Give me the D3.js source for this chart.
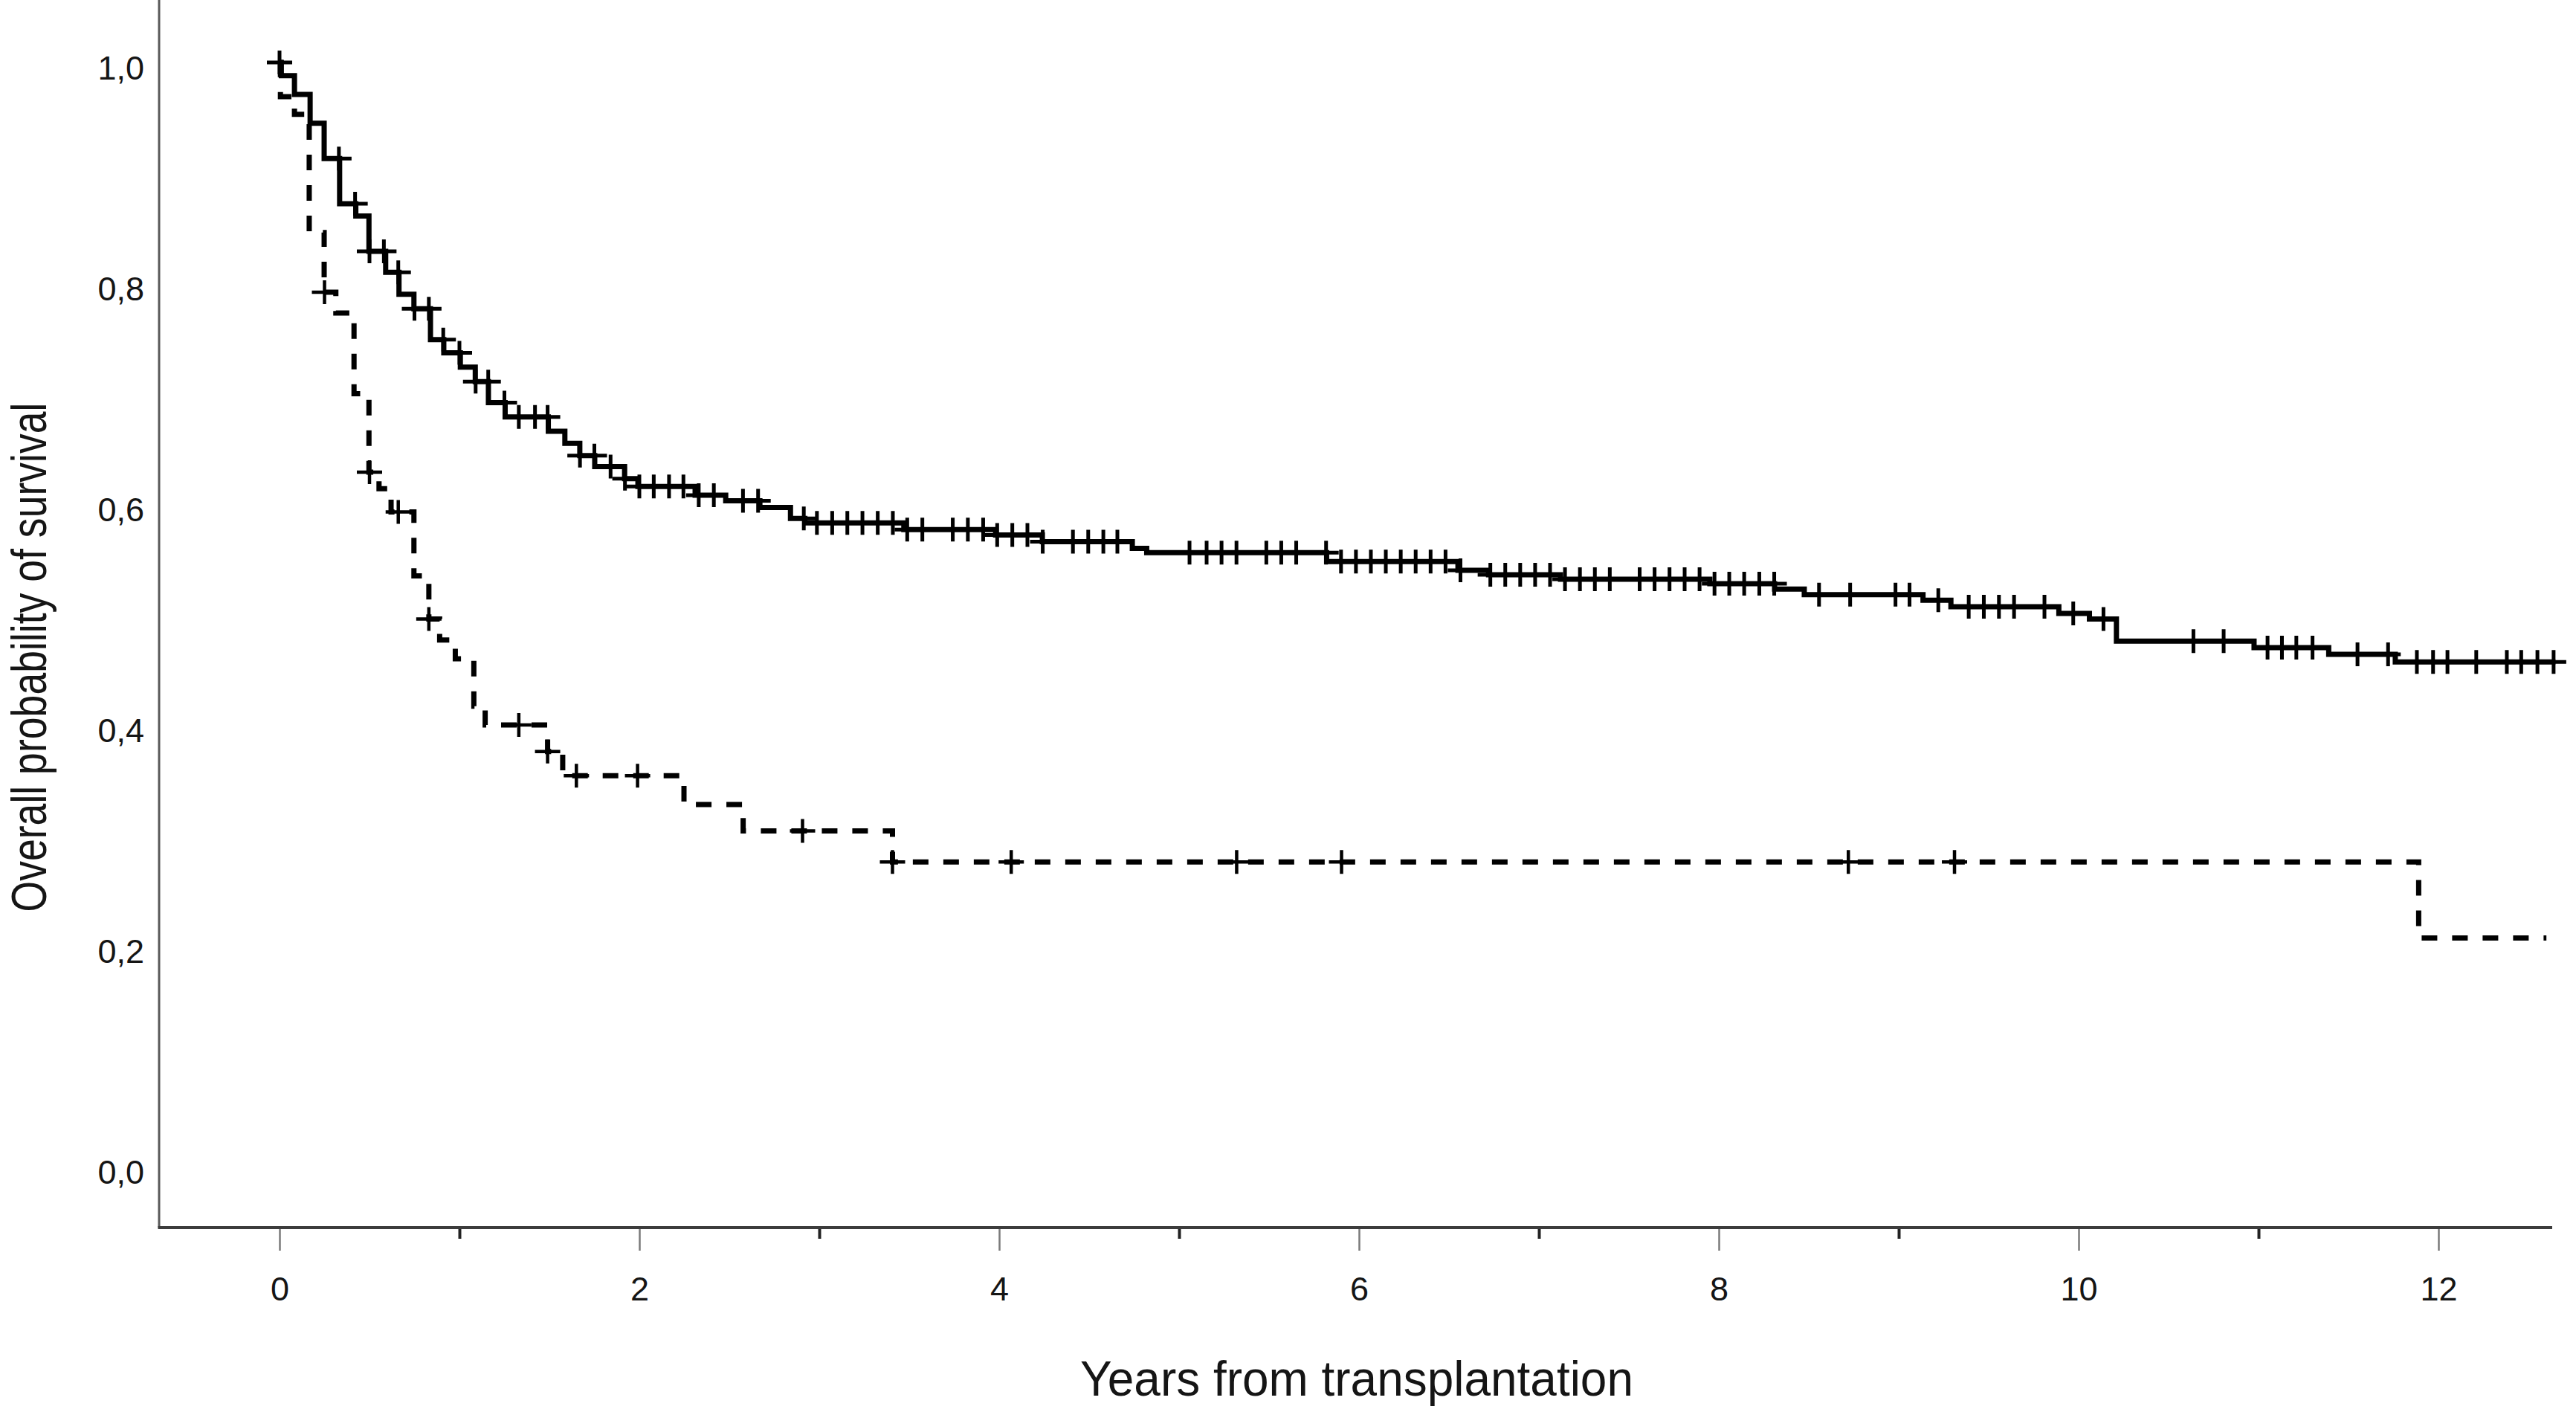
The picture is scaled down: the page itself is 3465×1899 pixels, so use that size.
<!DOCTYPE html>
<html>
<head>
<meta charset="utf-8">
<script src="https://cdn.jsdelivr.net/npm/d3@7"></script>
<style>
  body { margin: 0; background: #fff; }
  text { font-family: "Liberation Sans", Arial, sans-serif; fill: #151515; }
</style>
</head>
<body>
<svg id="chart"></svg>
<script>

// Kaplan-Meier steps: time (years) and survival after the drop
const solidTimes = [0, 0.01, 0.083, 0.17, 0.248, 0.334, 0.424, 0.497, 0.59, 0.664, 0.747, 0.839, 0.913, 1.005,
    1.088, 1.161, 1.254, 1.494, 1.586, 1.669, 1.752, 1.918, 1.992, 2.31, 2.48, 2.67, 2.84, 2.92, 3.47, 3.98,
    4.24, 4.74, 4.82, 5.82, 6.55, 6.72, 7.12, 7.95, 8.31, 8.475, 9.135, 9.29, 9.89, 10.06, 10.21, 10.975, 11.39,
    11.76, 12.65];
const solidSurv = [1.0, 0.988, 0.971, 0.945, 0.913, 0.872, 0.861, 0.829, 0.81, 0.79, 0.777, 0.749, 0.737, 0.724,
    0.711, 0.692, 0.679, 0.666, 0.655, 0.644, 0.634, 0.623, 0.616, 0.608, 0.603, 0.597, 0.587, 0.583, 0.577, 0.572,
    0.566, 0.56, 0.556, 0.548, 0.54, 0.536, 0.532, 0.528, 0.523, 0.518, 0.513, 0.507, 0.501, 0.496, 0.476, 0.47, 0.464,
    0.457, 0.457];
const solidCensored = [0, 0.33, 0.42, 0.5, 0.58, 0.66, 0.75, 0.83, 0.91, 1.0, 1.09, 1.16, 1.25, 1.33, 1.42, 1.49,
    1.67, 1.75, 1.84, 1.92, 2.0, 2.08, 2.165, 2.245, 2.33, 2.414, 2.576, 2.66, 2.914, 2.987, 3.072, 3.156, 3.24,
    3.325, 3.409, 3.489, 3.573, 3.742, 3.826, 3.911, 3.989, 4.073, 4.157, 4.242, 4.41, 4.495, 4.579, 4.657,
    5.058, 5.153, 5.236, 5.319, 5.485, 5.568, 5.651, 5.817, 5.9, 5.983, 6.066, 6.149, 6.232, 6.315, 6.398, 6.481,
    6.564, 6.73, 6.813, 6.896, 6.979, 7.062, 7.145, 7.228, 7.311, 7.394, 7.56, 7.643, 7.726, 7.81, 7.893, 7.976,
    8.058, 8.141, 8.225, 8.308, 8.557, 8.73, 8.982, 9.06, 9.22, 9.389, 9.473, 9.557, 9.641, 9.81, 9.97, 10.138,
    10.638, 10.806, 11.05, 11.13, 11.21, 11.3, 11.55, 11.72, 11.88, 11.97, 12.05, 12.21, 12.38, 12.46,
    12.55, 12.64];

const dashedTimes = [0, 0.005, 0.083, 0.165, 0.248, 0.313, 0.414, 0.497, 0.553, 0.62, 0.747, 0.83, 0.89, 0.977,
    1.08, 1.143, 1.49, 1.574, 2.248, 2.577, 3.407, 11.89, 12.6];
const dashedSurv = [1.0, 0.969, 0.953, 0.846, 0.792, 0.773, 0.70, 0.629, 0.614, 0.593, 0.535, 0.496, 0.477, 0.46,
    0.417, 0.40, 0.376, 0.354, 0.328, 0.304, 0.276, 0.207, 0.207];
const dashedCensored = [0.25, 0.5, 0.66, 0.83, 1.33, 1.49, 1.65, 1.99, 2.907, 3.407, 4.067, 5.32, 5.903, 8.72, 9.31];

const xMajorTicks = [0, 2, 4, 6, 8, 10, 12];
const xMinorTicks = [1, 3, 5, 7, 9, 11];
const yTicks = [0, 0.2, 0.4, 0.6, 0.8, 1.0];

const xTitle = "Years from transplantation";
const yTitle = "Overall probability of survival";

// layout
const W = 3465, H = 1899;
const frame = { left: 214, right: 3433, top: 0, bottom: 1651 };

const svg = d3.select("#chart")
    .attr("width", W)
    .attr("height", H);

const x = d3.scaleLinear().domain([0, 12]).range([376, 3280]);
const y = d3.scaleLinear().domain([0, 1]).range([1569, 84]);

// axes
const xMajor = d3.axisBottom(x)
    .tickValues(xMajorTicks)
    .tickSize(31)
    .tickPadding(35)
    .tickFormat(d3.format("d"));

const xMinor = d3.axisBottom(x)
    .tickValues(xMinorTicks)
    .tickSize(15)
    .tickFormat("");

const yAxis = d3.axisLeft(y)
    .tickValues(yTicks)
    .tickSize(0)
    .tickPadding(20)
    .tickFormat(d => d3.format(".1f")(d).replace(".", ","));

const gxMajor = svg.append("g")
    .attr("transform", `translate(0,${frame.bottom})`)
    .call(xMajor);
gxMajor.select(".domain").remove();
gxMajor.selectAll(".tick line").attr("stroke", "#7a7a7a").attr("stroke-width", 2.5);
gxMajor.selectAll(".tick text")
    .style("font-size", "45px")
    .style("font-family", "'Liberation Sans', Arial, sans-serif")
    .attr("fill", "#151515");

const gxMinor = svg.append("g")
    .attr("transform", `translate(0,${frame.bottom})`)
    .call(xMinor);
gxMinor.select(".domain").remove();
gxMinor.selectAll(".tick line").attr("stroke", "#222").attr("stroke-width", 4);

const gy = svg.append("g")
    .attr("transform", `translate(${frame.left},0)`)
    .call(yAxis);
gy.select(".domain").remove();
gy.selectAll(".tick text")
    .attr("dy", "0.5em")
    .style("font-size", "45px")
    .style("font-family", "'Liberation Sans', Arial, sans-serif")
    .attr("fill", "#151515");

// frame lines (L-shaped)
svg.append("line")
    .attr("x1", frame.left).attr("x2", frame.left)
    .attr("y1", frame.top).attr("y2", frame.bottom)
    .attr("stroke", "#5a5a5a").attr("stroke-width", 3);

svg.append("line")
    .attr("x1", frame.left - 1.5).attr("x2", frame.right)
    .attr("y1", frame.bottom).attr("y2", frame.bottom)
    .attr("stroke", "#3c3c3c").attr("stroke-width", 4);

// axis titles
svg.append("text")
    .attr("x", 1825)
    .attr("y", 1877)
    .attr("text-anchor", "middle")
    .attr("textLength", 744)
    .attr("lengthAdjust", "spacingAndGlyphs")
    .style("font-size", "66px")
    .text(xTitle);

svg.append("text")
    .attr("transform", "rotate(-90)")
    .attr("x", -884)
    .attr("y", 62)
    .attr("text-anchor", "middle")
    .attr("textLength", 685)
    .attr("lengthAdjust", "spacingAndGlyphs")
    .style("font-size", "66px")
    .text(yTitle);

// survival curves
const stepLine = d3.line()
    .x(d => x(d[0]))
    .y(d => y(d[1]))
    .curve(d3.curveStepAfter);

const solidData = d3.zip(solidTimes, solidSurv);
const dashedData = d3.zip(dashedTimes, dashedSurv);

svg.append("path")
    .datum(dashedData)
    .attr("fill", "none")
    .attr("stroke", "#000")
    .attr("stroke-width", 7)
    .attr("stroke-dasharray", "21,20")
    .attr("d", stepLine);

svg.append("path")
    .datum(solidData)
    .attr("fill", "none")
    .attr("stroke", "#000")
    .attr("stroke-width", 7)
    .attr("d", stepLine);

// survival value at a time (step function)
function survivalAt(times, surv, t) {
    let i = d3.bisectRight(times, t) - 1;
    return surv[Math.max(0, i)];
}

const plus = "M-17,0H17M0,-16V16";

svg.append("g")
    .selectAll("path")
    .data(solidCensored)
    .join("path")
    .attr("transform", t => `translate(${x(t)},${y(survivalAt(solidTimes, solidSurv, t))})`)
    .attr("d", plus)
    .attr("stroke", "#000")
    .attr("stroke-width", 5)
    .attr("fill", "none");

svg.append("g")
    .selectAll("path")
    .data(dashedCensored)
    .join("path")
    .attr("transform", t => `translate(${x(t)},${y(survivalAt(dashedTimes, dashedSurv, t))})`)
    .attr("d", plus)
    .attr("stroke", "#000")
    .attr("stroke-width", 4.5)
    .attr("fill", "none");

</script>
</body>
</html>
